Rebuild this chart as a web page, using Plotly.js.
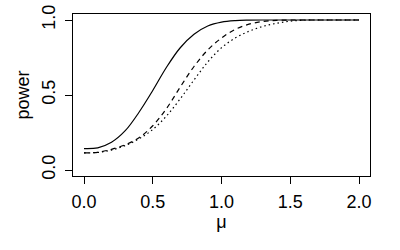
<!DOCTYPE html>
<html>
<head>
<meta charset="utf-8">
<script src="https://cdn.plot.ly/plotly-3.0.1.min.js"></script>
<style>html,body{margin:0;padding:0;background:#fff}#plot{width:400px;height:250px}</style>
</head>
<body>
<div id="plot"></div>
<script>
var mu = [0.0,0.1,0.2,0.3,0.4,0.5,0.6,0.7,0.8,0.9,1.0,1.1,1.2,1.3,1.4,1.5,1.6,1.7,1.8,1.9,2.0];
var powerSolid  = [0.143,0.148,0.185,0.262,0.385,0.53,0.685,0.815,0.905,0.96,0.986,0.996,0.999,1.0,1.0,1.0,1.0,1.0,1.0,1.0,1.0];
var powerDashed = [0.114,0.118,0.138,0.168,0.215,0.295,0.41,0.553,0.69,0.80,0.88,0.938,0.972,0.99,0.998,1.0,1.0,1.0,1.0,1.0,1.0];
var powerDotted = [0.114,0.117,0.133,0.163,0.208,0.27,0.36,0.475,0.60,0.72,0.815,0.88,0.925,0.957,0.978,0.992,0.999,1.0,1.0,1.0,1.0];
var xTicks = [0,0.5,1,1.5,2];
var yTicks = [0,0.5,1];

var traces = [
  {x: mu, y: powerSolid, mode:'lines', line:{color:'#000', width:1.2, shape:'spline', smoothing:1, dash:'solid'}},
  {x: mu, y: powerDashed, mode:'lines', line:{color:'#000', width:1.2, shape:'spline', smoothing:1, dash:'5px,4px'}},
  {x: mu, y: powerDotted, mode:'lines', line:{color:'#000', width:1.2, shape:'spline', smoothing:1, dash:'1.5px,3px'}}
];
var fam = 'Liberation Sans, Arial, sans-serif';
var tf = {family:fam, size:18, color:'#000'};
var layout = {
  width:400, height:250,
  margin:{l:73, r:30, t:14, b:74},
  showlegend:false,
  paper_bgcolor:'#fff', plot_bgcolor:'#fff',
  font: tf,
  xaxis:{range:[-0.08,2.08], tickvals:xTicks, ticktext:xTicks.map(function(v){return v.toFixed(1);}),
    showgrid:false, zeroline:false, showline:true, mirror:true, linecolor:'#000', linewidth:1,
    ticks:'outside', ticklen:7, tickcolor:'#000', tickwidth:1, ticklabelstandoff:2,
    tickfont:tf,
    title:{text:'μ', font:tf, standoff:0}},
  yaxis:{range:[-0.04,1.04], tickvals:yTicks, ticktext:yTicks.map(function(v){return v.toFixed(1);}),
    showgrid:false, zeroline:false, showline:true, mirror:true, linecolor:'#000', linewidth:1,
    ticks:'outside', ticklen:7, tickcolor:'#000', tickwidth:1, tickangle:-90, ticklabelstandoff:3,
    tickfont:tf,
    title:{text:'power', font:tf, standoff:4}}
};
Plotly.newPlot('plot', traces, layout, {staticPlot:true, displayModeBar:false});
</script>
</body>
</html>
